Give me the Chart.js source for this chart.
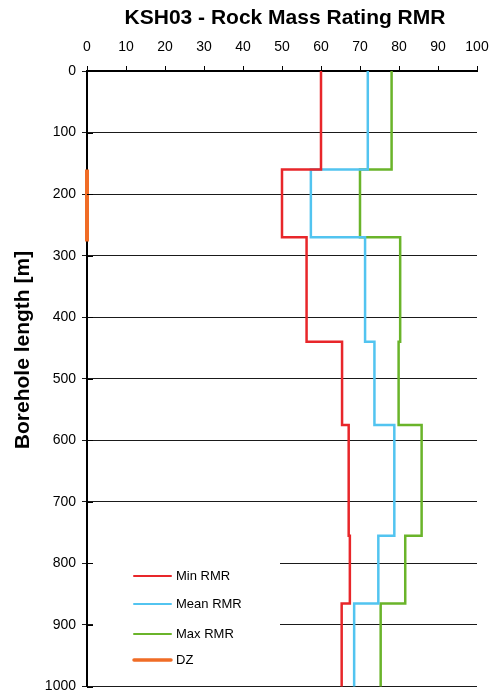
<!DOCTYPE html>
<html>
<head>
<meta charset="utf-8">
<script src="https://cdn.jsdelivr.net/npm/chart.js@4.4.1/dist/chart.umd.min.js"></script>
<style>
  html, body { margin: 0; padding: 0; background: #fff; }
  #wrap { width: 492px; height: 695px; }
</style>
</head>
<body>
<div id="wrap"><canvas id="rmr" width="492" height="695"></canvas></div>
<script>
// Depth intervals (borehole length, m) and RMR values per interval
const depthBreaks = [0, 160, 270, 440, 575, 755, 865, 1000];
const minRMR  = [60, 50, 56.3, 65.4, 67.1, 67.4, 65.3];
const meanRMR = [72, 57.4, 71.3, 73.7, 78.8, 74.7, 68.5];
const maxRMR  = [78.1, 70, 80.3, 79.9, 85.8, 81.6, 75.3];

// Deformation zone interval
const dzFrom = [160];
const dzTo   = [277];
const dzValue = 0;

const rmrTicks = [0, 10, 20, 30, 40, 50, 60, 70, 80, 90, 100];
const depthTicks = [0, 100, 200, 300, 400, 500, 600, 700, 800, 900, 1000];

const chartTitle = 'KSH03 - Rock Mass Rating RMR';
const depthTitle = 'Borehole length [m]';

const FONT = "'Liberation Sans', Arial, sans-serif";

// Turn interval values into a stepped depth profile
function profile(values) {
  const pts = [];
  for (let i = 0; i < values.length; i++) {
    pts.push({ x: values[i], y: depthBreaks[i] });
    pts.push({ x: values[i], y: depthBreaks[i + 1] });
  }
  return pts;
}
function dzPoints() {
  const pts = [];
  for (let i = 0; i < dzFrom.length; i++) {
    pts.push({ x: dzValue, y: dzFrom[i] });
    pts.push({ x: dzValue, y: dzTo[i] });
    if (i < dzFrom.length - 1) pts.push({ x: null, y: null });
  }
  return pts;
}

const series = [
  { label: 'Min RMR',  data: profile(minRMR),  color: 'rgb(232,38,42)',  width: 2.5, legendWidth: 2 },
  { label: 'Mean RMR', data: profile(meanRMR), color: 'rgb(82,196,240)', width: 2.5, legendWidth: 2 },
  { label: 'Max RMR',  data: profile(maxRMR),  color: 'rgb(106,180,42)', width: 2.5, legendWidth: 2 },
  { label: 'DZ',       data: dzPoints(),       color: 'rgb(240,108,38)', width: 4,   legendWidth: 3.5 }
];

// Titles, inner legend box and inward axis ticks
const decorations = {
  id: 'decorations',
  afterDatasetsDraw(chart) {
    const ctx = chart.ctx;
    const ca = chart.chartArea;
    ctx.save();
    ctx.fillStyle = '#fff';
    ctx.fillRect(ca.left + 6, 548, 280 - (ca.left + 6), 133);
    const rows = [576, 604, 634, 660];
    chart.data.datasets.forEach((ds, i) => {
      const y = rows[i];
      ctx.strokeStyle = ds.borderColor;
      ctx.lineWidth = ds.legendWidth;
      ctx.lineCap = 'round';
      ctx.beginPath();
      ctx.moveTo(134, y);
      ctx.lineTo(171, y);
      ctx.stroke();
      ctx.fillStyle = '#000';
      ctx.font = '13px ' + FONT;
      ctx.textAlign = 'left';
      ctx.textBaseline = 'middle';
      ctx.fillText(ds.label, 176, y + 0.5);
    });
    const ys = chart.scales.y;
    ctx.strokeStyle = '#000';
    ctx.lineWidth = 1;
    ctx.lineCap = 'butt';
    depthTicks.forEach(v => {
      const py = Math.round(ys.getPixelForValue(v)) + 0.5;
      ctx.beginPath();
      ctx.moveTo(ca.left, py);
      ctx.lineTo(ca.left + 6, py);
      ctx.stroke();
    });
    ctx.restore();
  },
  afterDraw(chart) {
    const ctx = chart.ctx;
    ctx.save();
    ctx.fillStyle = '#000';
    ctx.textAlign = 'center';
    ctx.textBaseline = 'middle';
    ctx.font = 'bold 21px ' + FONT;
    ctx.fillText(chartTitle, 285, 18);
    ctx.translate(23, 350);
    ctx.rotate(-Math.PI / 2);
    ctx.fillText(depthTitle, 0, 0);
    ctx.restore();
  }
};

Chart.defaults.font.family = FONT;
Chart.defaults.color = '#000';

new Chart(document.getElementById('rmr'), {
  type: 'scatter',
  data: {
    datasets: series.map(s => ({
      label: s.label,
      data: s.data,
      showLine: true,
      borderColor: s.color,
      backgroundColor: s.color,
      borderWidth: s.width,
      legendWidth: s.legendWidth,
      pointRadius: 0,
      pointHoverRadius: 0,
      tension: 0,
      spanGaps: false,
      clip: false
    }))
  },
  options: {
    responsive: false,
    animation: false,
    events: [],
    layout: { padding: { left: 0, right: 15, top: 0, bottom: 8.5 } },
    plugins: {
      legend: { display: false },
      tooltip: { enabled: false },
      title: { display: false }
    },
    scales: {
      x: {
        type: 'linear',
        position: 'top',
        min: 0,
        max: 100,
        afterBuildTicks(scale) { scale.ticks = rmrTicks.map(v => ({ value: v })); },
        afterFit(scale) {
          scale.height = 71;
          scale.paddingLeft = 0;
          scale.paddingRight = 0;
        },
        ticks: { font: { size: 14 }, color: '#000', padding: 10, maxRotation: 0 },
        grid: { drawOnChartArea: false, drawTicks: true, tickLength: 5, color: '#000', lineWidth: 1 },
        border: { display: true, color: '#000', width: 2 }
      },
      y: {
        type: 'linear',
        reverse: true,
        min: 0,
        max: 1000,
        afterBuildTicks(scale) { scale.ticks = depthTicks.map(v => ({ value: v })); },
        afterFit(scale) {
          scale.width = 87;
          scale.paddingTop = 0;
          scale.paddingBottom = 0;
        },
        ticks: { font: { size: 14 }, color: '#000', padding: 6, callback: v => String(v) },
        grid: { color: '#1a1a1a', lineWidth: 1, tickLength: 5, drawTicks: true },
        border: { display: true, color: '#000', width: 2 }
      }
    }
  },
  plugins: [decorations]
});
</script>
</body>
</html>
